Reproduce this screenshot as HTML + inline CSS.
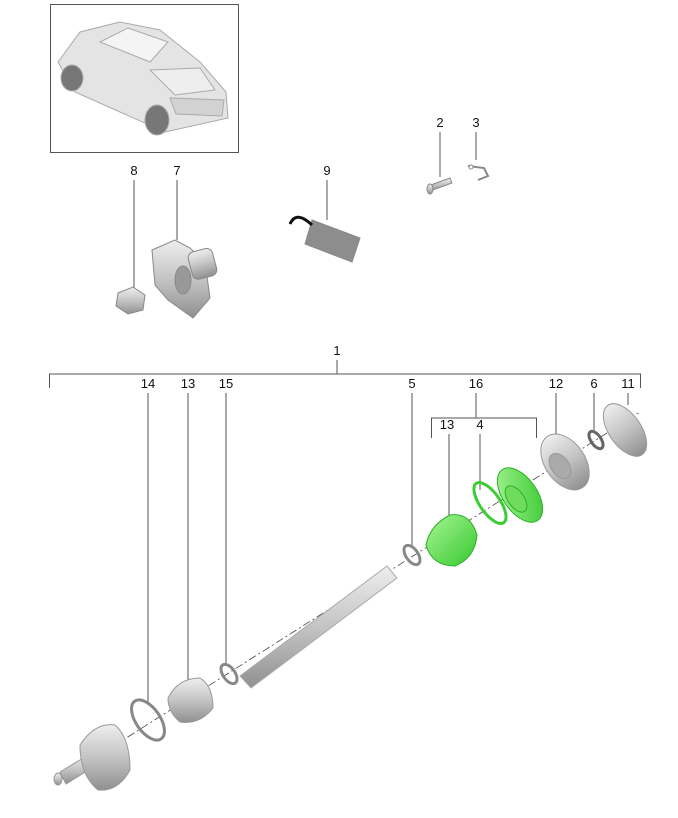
<!DOCTYPE html>
<html><head><meta charset="utf-8"><style>
body{margin:0;background:#fff;}
svg{display:block;font-family:"Liberation Sans",sans-serif;}
</style></head><body>
<svg width="678" height="818" viewBox="0 0 678 818">
<defs>
<linearGradient id="g" x1="0" y1="0" x2="0" y2="1"><stop offset="0" stop-color="#eeeeee"/><stop offset="0.5" stop-color="#c4c4c4"/><stop offset="1" stop-color="#909090"/></linearGradient>
<linearGradient id="gr" x1="0" y1="0" x2="1" y2="1"><stop offset="0" stop-color="#a8f595"/><stop offset="1" stop-color="#35c82e"/></linearGradient>
</defs>
<rect x="50.5" y="4.5" width="188" height="148" fill="#fff" stroke="#555"/>
<g stroke="#aaa" stroke-width="1">
<path d="M58 62 L80 32 L120 22 L160 30 L200 62 L226 92 L228 118 L165 132 L75 92 Z" fill="#e4e4e4"/>
<path d="M100 42 L128 28 L168 42 L150 62 Z" fill="#f4f4f4"/>
<path d="M150 70 L200 68 L215 90 L175 95 Z" fill="#eee"/>
<ellipse cx="72" cy="78" rx="11" ry="13" fill="#777"/>
<ellipse cx="157" cy="120" rx="12" ry="15" fill="#777"/>
<path d="M170 98 L224 100 L222 116 L176 114 Z" fill="#d2d2d2"/>
</g>
<g font-size="13" fill="#111" text-anchor="middle">
<text x="440" y="127">2</text><text x="476" y="127">3</text>
<text x="134" y="175">8</text><text x="177" y="175">7</text>
<text x="327" y="175">9</text>
<text x="337" y="355">1</text>
<text x="148" y="388">14</text><text x="188" y="388">13</text><text x="226" y="388">15</text>
<text x="412" y="388">5</text><text x="476" y="388">16</text>
<text x="556" y="388">12</text><text x="594" y="388">6</text><text x="628" y="388">11</text>
<text x="447" y="429">13</text><text x="480" y="429">4</text>
</g>
<g stroke="#555" stroke-width="1" fill="none">
<line x1="440" y1="132" x2="440" y2="177"/><line x1="476" y1="132" x2="476" y2="160"/>
<line x1="134" y1="180" x2="134" y2="290"/><line x1="177" y1="180" x2="177" y2="240"/>
<line x1="327" y1="180" x2="327" y2="220"/>
<line x1="337" y1="360" x2="337" y2="374"/>
<polyline points="49.5,388 49.5,374 640.5,374 640.5,388"/>
<line x1="148" y1="393" x2="148" y2="705"/><line x1="188" y1="393" x2="188" y2="682"/><line x1="226" y1="393" x2="226" y2="665"/>
<line x1="412" y1="393" x2="412" y2="548"/>
<line x1="476" y1="393" x2="476" y2="418"/>
<polyline points="431.5,438 431.5,418 536.5,418 536.5,438"/>
<line x1="449" y1="434" x2="449" y2="515"/><line x1="480" y1="434" x2="480" y2="490"/>
<line x1="556" y1="393" x2="556" y2="442"/><line x1="594" y1="393" x2="594" y2="430"/><line x1="628" y1="393" x2="628" y2="405"/>
</g>
<line x1="60" y1="780" x2="640" y2="412" stroke="#444" stroke-width="0.8" stroke-dasharray="8,3,2,3"/>
<g stroke="#888" fill="url(#g)">
<path d="M428 186 L450 178 L452 183 L430 191 Z"/><ellipse cx="430" cy="189" rx="3" ry="5"/>
<path d="M468 166 L484 168 L488 176 L478 180" fill="none" stroke-width="2"/><circle cx="471" cy="167" r="2" fill="#fff"/>
<path d="M118 293 L133 287 L145 295 L143 310 L128 314 L116 306 Z"/>
<path d="M152 250 L175 240 L190 248 L205 262 L210 298 L193 318 L168 300 L155 285 Z"/>
<rect x="190" y="250" width="25" height="28" rx="6" transform="rotate(-15 202 264)"/>
<ellipse cx="183" cy="280" rx="8" ry="14" fill="#999"/>
<path d="M312 220 L360 238 L352 262 L305 244 Z" fill="#8d8d8d"/>
<path d="M290 224 Q296 210 312 225" fill="none" stroke="#111" stroke-width="3"/>
</g>
<path d="M240 676 L387 566 L397 578 L251 688 Z" fill="url(#g)" stroke="#aaa"/>
<g stroke="#888" fill="none" stroke-width="3">
<ellipse cx="148" cy="720" rx="12" ry="23" transform="rotate(-35 148 720)"/>
<ellipse cx="229" cy="674" rx="6" ry="11" transform="rotate(-35 229 674)"/>
<ellipse cx="412" cy="555" rx="6" ry="11" transform="rotate(-35 412 555)"/>
<ellipse cx="596" cy="440" rx="5" ry="10" transform="rotate(-35 596 440)" stroke="#666"/>
</g>
<ellipse cx="490" cy="503" rx="10" ry="24" transform="rotate(-35 490 503)" fill="none" stroke="#3ccc33" stroke-width="3"/>
<g stroke="#999" fill="url(#g)">
<path d="M60 772 L88 755 L95 766 L66 784 Z"/>
<ellipse cx="58" cy="779" rx="4" ry="6"/>
<path d="M80 745 Q95 722 115 725 Q130 738 130 770 Q118 792 98 790 Q80 775 80 745 Z"/>
<path d="M168 698 Q178 678 200 678 Q213 686 213 708 Q200 725 180 722 Q168 712 168 698 Z"/>
<ellipse cx="565" cy="462" rx="20" ry="31" transform="rotate(-35 565 462)"/>
<ellipse cx="560" cy="466" rx="9" ry="14" transform="rotate(-35 560 466)" fill="#aaa"/>
<ellipse cx="625" cy="430" rx="16" ry="30" transform="rotate(-35 625 430)"/>
</g>
<g stroke="#2ab025" fill="url(#gr)">
<path d="M426 545 Q430 525 450 515 Q470 512 477 535 Q475 558 455 566 Q432 566 426 545 Z"/>
<ellipse cx="520" cy="495" rx="17" ry="31" transform="rotate(-35 520 495)"/>
<ellipse cx="516" cy="499" rx="8" ry="15" transform="rotate(-35 516 499)" fill="#6fdc5c"/>
</g>
</svg>
</body></html>
